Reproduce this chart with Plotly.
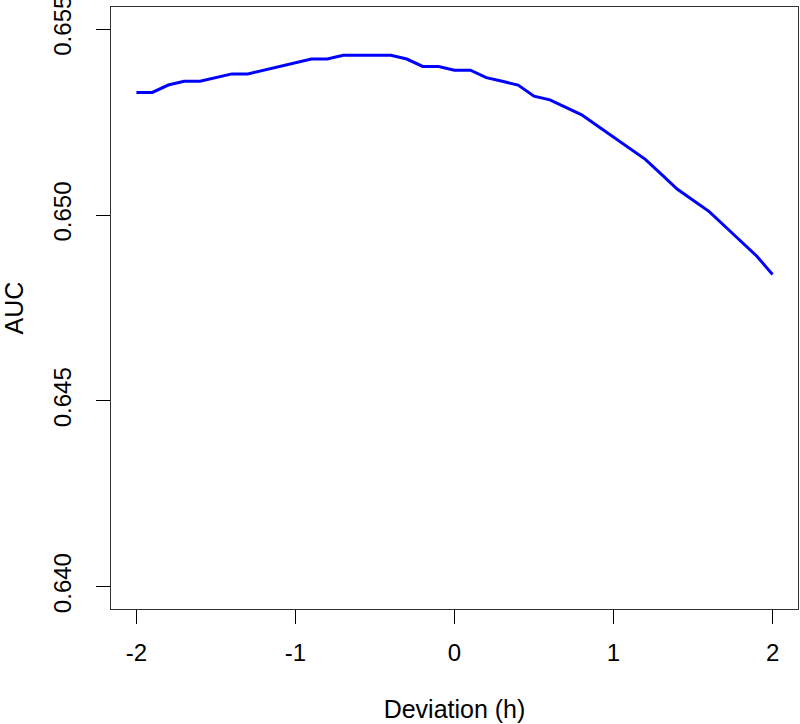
import plotly.graph_objects as go

deviation = [-2.0, -1.9, -1.8, -1.7, -1.6, -1.5, -1.4, -1.3, -1.2, -1.1, -1.0,
             -0.9, -0.8, -0.7, -0.6, -0.5, -0.4, -0.3, -0.2, -0.1, 0.0,
             0.1, 0.2, 0.3, 0.4, 0.5, 0.6, 0.7, 0.8, 0.9, 1.0,
             1.1, 1.2, 1.3, 1.4, 1.5, 1.6, 1.7, 1.8, 1.9, 2.0]
auc = [0.6533, 0.6533, 0.6535, 0.6536, 0.6536, 0.6537, 0.6538, 0.6538, 0.6539, 0.6540, 0.6541,
       0.6542, 0.6542, 0.6543, 0.6543, 0.6543, 0.6543, 0.6542, 0.6540, 0.6540, 0.6539,
       0.6539, 0.6537, 0.6536, 0.6535, 0.6532, 0.6531, 0.6529, 0.6527, 0.6524, 0.6521,
       0.6518, 0.6515, 0.6511, 0.6507, 0.6504, 0.6501, 0.6497, 0.6493, 0.6489, 0.6484]

x_ticks = [-2, -1, 0, 1, 2]
x_tick_labels = ["-2", "-1", "0", "1", "2"]
y_ticks = [0.640, 0.645, 0.650, 0.655]
y_tick_labels = ["0.640", "0.645", "0.650", "0.655"]

font = "Liberation Sans, Arial, sans-serif"

fig = go.Figure()
fig.add_trace(go.Scatter(x=deviation, y=auc, mode="lines",
                         line=dict(color="#0000FF", width=3), showlegend=False))

fig.update_layout(
    width=800, height=724,
    margin=dict(l=111, r=2, t=7, b=115, autoexpand=False),
    paper_bgcolor="white", plot_bgcolor="white",
    font=dict(family=font, size=24, color="black"),
    xaxis=dict(
        range=[-2.16, 2.16], tickmode="array", tickvals=x_ticks, ticktext=x_tick_labels,
        showgrid=False, zeroline=False, showline=True, mirror=True,
        linecolor="#333333", linewidth=1.3, automargin=False,
        ticks="outside", ticklen=14, tickwidth=1, tickcolor="black",
        ticklabelstandoff=8, ticklabeloverflow="allow",
        title=dict(text="Deviation (h)", font=dict(size=25), standoff=35),
    ),
    yaxis=dict(
        range=[0.6394, 0.6556], tickmode="array", tickvals=y_ticks, ticktext=y_tick_labels,
        showgrid=False, zeroline=False, showline=True, mirror=True,
        linecolor="#333333", linewidth=1.3, automargin=False,
        ticks="outside", ticklen=14, tickwidth=1, tickcolor="black",
        tickangle=-90, ticklabelstandoff=15, ticklabeloverflow="allow",
        title=dict(text="AUC", font=dict(size=25), standoff=24),
    ),
)

fig.write_html("out.html")
